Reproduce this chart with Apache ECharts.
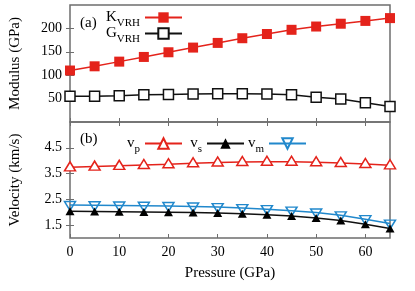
<!DOCTYPE html>
<html><head><meta charset="utf-8">
<script src="https://cdn.jsdelivr.net/npm/echarts@6/dist/echarts.min.js"></script>
<style>html,body{margin:0;padding:0;background:#fff}#c{width:415px;height:291px}</style>
</head><body><div id="c"></div>
<script>
const pressure = [0,5,10,15,20,25,30,35,40,45,50,55,60,65];
const kVRH = [110,119,129,139,149,159,169,179,188,197,204,210,216,222];
const gVRH = [55,55,56,58,59,60,60.5,60.5,60,58,53,49,41,33];
const vp = [3.74,3.77,3.80,3.83,3.86,3.90,3.93,3.95,3.96,3.96,3.94,3.91,3.87,3.82];
const vs = [2.04,2.03,2.02,2.01,2.00,1.99,1.97,1.94,1.90,1.85,1.78,1.68,1.53,1.37];
const vm = [2.28,2.27,2.26,2.25,2.24,2.22,2.20,2.16,2.12,2.06,1.99,1.88,1.73,1.56];
const xTicks = [0,10,20,30,40,50,60];
const modTicks = [50,100,150,200];
const velTicks = [1.5,2.5,3.5,4.5];

const FONT = 'Liberation Serif';
const RED = '#e4231b';
const BLUE = '#2188cc';
const GRAY = '#6e6e6e';

function pairs(ys){ return pressure.map((p,i)=>[p, ys[i]]); }

const chart = echarts.init(document.getElementById('c'), null, {renderer:'canvas'});

function xAx(grid, pos, labels){
  return {
    type:'value', gridIndex:grid, position:pos, min:0, max:65,
    axisLine:{show:false},
    axisTick:{show:true, inside:true, length:4, customValues:xTicks, lineStyle:{color:GRAY, width:1}},
    axisLabel:{show:labels, customValues:xTicks, margin:7, color:'#000', fontFamily:FONT, fontSize:14},
    splitLine:{show:false}
  };
}
function yAx(grid, pos, min, max, ticks, labels){
  return {
    type:'value', gridIndex:grid, position:pos, min:min, max:max,
    axisLine:{show:false},
    axisTick:{show:true, inside:true, length:4, customValues:ticks, lineStyle:{color:GRAY, width:1}},
    axisLabel:{show:labels, customValues:ticks, margin:8, color:'#000', fontFamily:FONT, fontSize:14},
    splitLine:{show:false}
  };
}

const xAxes = [xAx(0,'bottom',false), xAx(0,'top',false), xAx(1,'bottom',true), xAx(1,'top',false)];
xAxes[2].name = 'Pressure (GPa)';
xAxes[2].nameLocation = 'middle';
xAxes[2].nameGap = 28;
xAxes[2].nameTextStyle = {fontFamily:FONT, fontSize:15, color:'#000'};

const yAxes = [yAx(0,'left',0,250,modTicks,true), yAx(0,'right',0,250,modTicks,false),
               yAx(1,'left',1,5.5,velTicks,true), yAx(1,'right',1,5.5,velTicks,false)];
yAxes[0].name = 'Modulus (GPa)';
yAxes[2].name = 'Velocity (km/s)';
[0,2].forEach(i=>{
  yAxes[i].nameLocation='middle';
  yAxes[i].nameGap=47;
  yAxes[i].nameTextStyle={fontFamily:FONT, fontSize:15, color:'#000'};
});

const names = {
  'K_VRH':'{m|K}{s|VRH}', 'G_VRH':'{m|G}{s|VRH}',
  'v_p':'{m|v}{s|p}', 'v_s':'{m|v}{s|s}', 'v_m':'{m|v}{s|m}'
};
const rich = {
  m:{fontFamily:FONT, fontSize:15, color:'#000', padding:[5,0,5,0], verticalAlign:'bottom'},
  s:{fontFamily:FONT, fontSize:11, color:'#000', verticalAlign:'bottom', padding:[0,0,1,0]}
};

function leg(name, right, top){
  return {data:[name], orient:'horizontal', right:right, top:top, align:'right',
    itemWidth:37, itemHeight:13, itemGap:0, formatter:n=>names[n], textStyle:{rich:rich}};
}

chart.setOption({
  animation:false,
  backgroundColor:'#fff',
  grid:[
    {left:68, width:322, top:5, height:117, show:true, borderColor:GRAY, borderWidth:1.5, containLabel:false},
    {left:68, width:322, top:122, height:116, show:true, borderColor:GRAY, borderWidth:1.5, containLabel:false}
  ],
  xAxis:xAxes,
  yAxis:yAxes,
  legend:[
    leg('K_VRH', 227, 5),
    leg('G_VRH', 227, 21),
    leg('v_p', 227, 131),
    leg('v_s', 165, 131),
    leg('v_m', 103, 131)
  ],
  graphic:[
    {type:'text', left:80, top:16, style:{text:'(a)', font:'15px "Liberation Serif"', fill:'#000'}},
    {type:'text', left:80, top:132, style:{text:'(b)', font:'15px "Liberation Serif"', fill:'#000'}}
  ],
  series:[
    {name:'K_VRH', type:'line', xAxisIndex:0, yAxisIndex:0, data:pairs(kVRH),
     symbol:'rect', symbolSize:10, itemStyle:{color:RED}, lineStyle:{color:RED, width:1.5}},
    {name:'G_VRH', type:'line', xAxisIndex:0, yAxisIndex:0, data:pairs(gVRH),
     symbol:'rect', symbolSize:10, itemStyle:{color:'#fff', borderColor:'#111', borderWidth:1.5}, lineStyle:{color:'#111', width:1.5}},
    {name:'v_p', type:'line', xAxisIndex:2, yAxisIndex:2, data:pairs(vp),
     symbol:'triangle', symbolSize:[11,9], symbolOffset:[0,-1], itemStyle:{color:'#fff', borderColor:RED, borderWidth:1.5}, lineStyle:{color:RED, width:1.5}},
    {name:'v_m', type:'line', xAxisIndex:2, yAxisIndex:2, data:pairs(vm),
     symbol:'triangle', symbolRotate:180, symbolSize:[11,9], symbolOffset:[0,1], itemStyle:{color:'rgba(255,255,255,0)', borderColor:BLUE, borderWidth:1.5}, lineStyle:{color:BLUE, width:1.5}},
    {name:'v_s', type:'line', xAxisIndex:2, yAxisIndex:2, data:pairs(vs),
     symbol:'triangle', symbolSize:[9,8], itemStyle:{color:'#000'}, lineStyle:{color:'#111', width:1.5}}
  ]
});
</script></body></html>
